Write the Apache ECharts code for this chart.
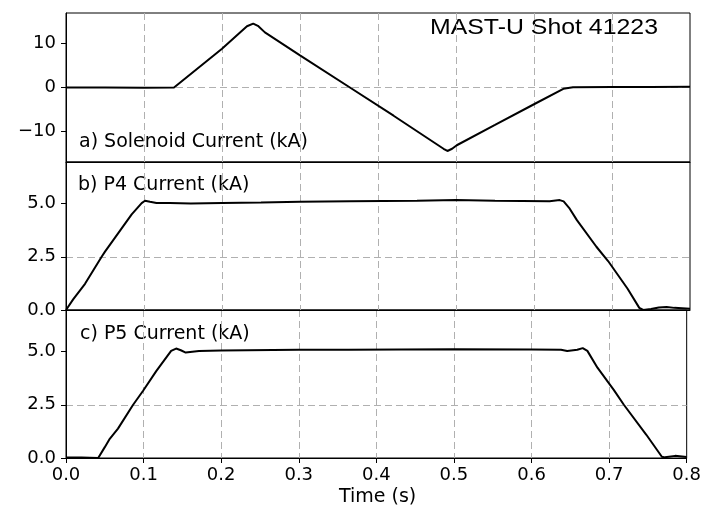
<!DOCTYPE html>
<html>
<head>
<meta charset="utf-8">
<script src="https://cdn.jsdelivr.net/npm/echarts@6/dist/echarts.min.js"></script>
<style>
  html, body { margin: 0; padding: 0; background: #fff; }
  #chart { width: 704px; height: 510px; }
</style>
</head>
<body>
<div id="chart"></div>
<script>
// time (s) / current (kA)
const solenoidT = [0, 0.05, 0.1, 0.1385, 0.2, 0.232, 0.24, 0.246, 0.255, 0.3, 0.364, 0.42, 0.484, 0.489, 0.495, 0.501, 0.55, 0.6, 0.6376, 0.65, 0.7, 0.75, 0.8];
const solenoidI = [0, 0, -0.05, 0, 8.8, 13.9, 14.5, 14.0, 12.5, 7.3, 0, -6.4, -13.9, -14.4, -13.9, -13.1, -8.5, -3.8, -0.3, 0.05, 0.1, 0.1, 0.15];

const p4T = [0, 0.0094, 0.0244, 0.0457, 0.05, 0.067, 0.0842, 0.097, 0.1013, 0.1077, 0.116, 0.133, 0.16, 0.2, 0.25, 0.3, 0.364, 0.45, 0.5, 0.55, 0.62, 0.633, 0.638, 0.645, 0.655, 0.68, 0.695, 0.72, 0.735, 0.74, 0.75, 0.76, 0.77, 0.78, 0.8];
const p4I = [0, 0.51, 1.23, 2.5, 2.74, 3.61, 4.49, 5.02, 5.13, 5.08, 5.02, 5.03, 5.0, 5.03, 5.05, 5.08, 5.11, 5.13, 5.16, 5.13, 5.11, 5.16, 5.1, 4.8, 4.22, 2.97, 2.3, 1.0, 0.1, 0.0, 0.05, 0.12, 0.14, 0.1, 0.06];

const p5T = [0, 0.02, 0.0415, 0.05, 0.0564, 0.067, 0.0863, 0.0996, 0.1163, 0.1355, 0.1419, 0.148, 0.1543, 0.1714, 0.2, 0.3, 0.364, 0.5, 0.6, 0.638, 0.646, 0.659, 0.666, 0.672, 0.685, 0.706, 0.719, 0.748, 0.768, 0.772, 0.785, 0.8];
const p5I = [0.02, 0.02, 0, 0.51, 0.9, 1.38, 2.49, 3.17, 4.08, 5.03, 5.14, 5.06, 4.95, 5.03, 5.05, 5.08, 5.08, 5.11, 5.1, 5.08, 5.02, 5.08, 5.16, 5.03, 4.24, 3.2, 2.5, 1.09, 0.06, 0.03, 0.1, 0.05];

const xTicks = [0, 0.1, 0.2, 0.3, 0.4, 0.5, 0.6, 0.7, 0.8];
const solenoidTicks = [-10, 0, 10];
const coilTicks = [0, 2.5, 5.0];

function pairs(t, v) {
  return t.map((x, i) => [x, v[i]]);
}

const tickFont = "DejaVu Sans";
const gridLine = {
  show: true,
  showMinLine: false,
  showMaxLine: false,
  lineStyle: { color: "#b0b0b0", type: [7, 4], width: 1 },
};

function xAxisFor(gridIndex, showLabels) {
  return {
    type: "value",
    gridIndex: gridIndex,
    min: 0,
    max: 0.8,
    interval: 0.1,
    axisLine: { show: true, onZero: false, lineStyle: { color: "#000", width: 1 } },
    axisTick: { show: showLabels, inside: false, length: 5, lineStyle: { color: "#000" } },
    axisLabel: {
      show: showLabels,
      margin: 8,
      color: "#000",
      fontFamily: tickFont,
      fontSize: 18,
      formatter: (v) => v.toFixed(1),
    },
    splitLine: gridLine,
  };
}

function yAxisFor(gridIndex, min, max, ticks, fmt) {
  return {
    type: "value",
    gridIndex: gridIndex,
    min: min,
    max: max,
    axisLine: { show: true, onZero: false, lineStyle: { color: "#000", width: 1 } },
    axisTick: { show: true, inside: false, length: 5, lineStyle: { color: "#000" }, customValues: ticks },
    axisLabel: {
      margin: 10,
      color: "#000",
      fontFamily: tickFont,
      fontSize: 18,
      customValues: ticks,
      formatter: fmt,
    },
    splitLine: gridLine,
  };
}

const lineStyle = { color: "#000", width: 2 };
const labelFont = "19px 'DejaVu Sans'";

const chart = echarts.init(document.getElementById("chart"), null, { renderer: "canvas" });

chart.setOption({
  animation: false,
  backgroundColor: "#fff",
  grid: [
    { left: 66, top: 13, width: 624, height: 149, show: true, borderColor: "#000", borderWidth: 1 },
    { left: 66, top: 162, width: 624, height: 148, show: true, borderColor: "#000", borderWidth: 1 },
    { left: 66, top: 310, width: 624, height: 148, show: true, borderColor: "#000", borderWidth: 1 },
  ],
  xAxis: [xAxisFor(0, false), xAxisFor(1, false), xAxisFor(2, true)],
  yAxis: [
    yAxisFor(0, -16.9, 16.9, solenoidTicks, (v) => (v < 0 ? "\u2212" + Math.abs(v) : String(v))),
    yAxisFor(1, 0, 6.95, coilTicks, (v) => v.toFixed(1)),
    yAxisFor(2, 0, 6.95, coilTicks, (v) => v.toFixed(1)),
  ],
  series: [
    { type: "line", xAxisIndex: 0, yAxisIndex: 0, data: pairs(solenoidT, solenoidI), showSymbol: false, lineStyle: lineStyle },
    { type: "line", xAxisIndex: 1, yAxisIndex: 1, data: pairs(p4T, p4I), showSymbol: false, lineStyle: lineStyle },
    { type: "line", xAxisIndex: 2, yAxisIndex: 2, data: pairs(p5T, p5I), showSymbol: false, lineStyle: lineStyle },
  ],
  graphic: [
    { type: "text", left: 79, top: 133, style: { text: "a) Solenoid Current (kA)", fill: "#000", font: labelFont } },
    { type: "text", left: 78, top: 176, style: { text: "b) P4 Current (kA)", fill: "#000", font: labelFont } },
    { type: "text", left: 80, top: 325, style: { text: "c) P5 Current (kA)", fill: "#000", font: labelFont } },
    { type: "text", x: 430, y: 17, scaleX: 1.13, style: { text: "MAST-U Shot 41223", fill: "#000", font: "22px 'Liberation Sans'" } },
    { type: "text", left: 339, top: 488, style: { text: "Time (s)", fill: "#000", font: labelFont } },
  ],
});
</script>
</body>
</html>
